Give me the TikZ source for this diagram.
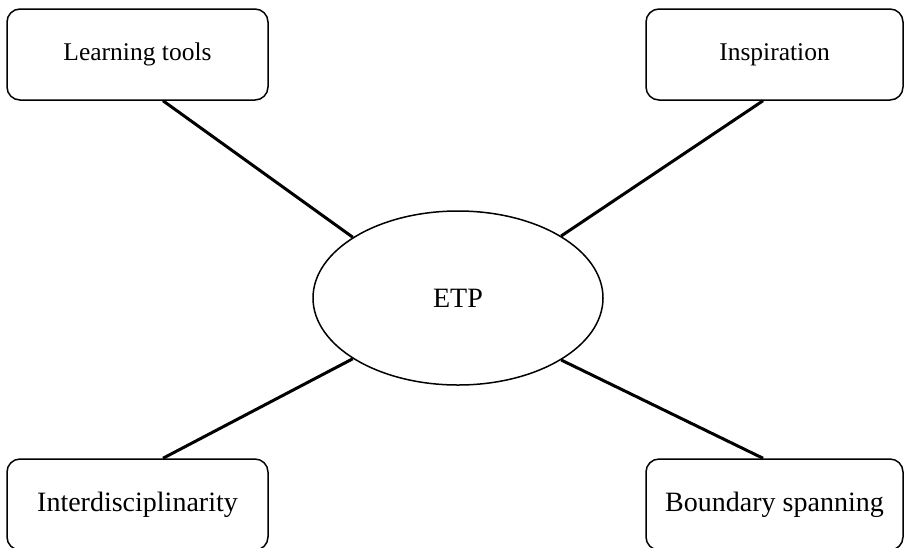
\documentclass[tikz,border=0pt]{standalone}
\usepackage{fontspec}
\setmainfont{Liberation Serif}
\usetikzlibrary{shapes.geometric}
\begin{document}
\begin{tikzpicture}[x=1pt,y=-1pt,
  topbox/.style={draw=black, line width=1.5pt, rounded corners=13pt, fill=white, inner sep=0pt, font=\fontsize{25.5}{30}\selectfont},
  botbox/.style={draw=black, line width=1.5pt, rounded corners=13pt, fill=white, inner sep=0pt, font=\fontsize{28}{33}\selectfont},
  hub/.style={draw=black, line width=1.5pt, ellipse, fill=white, inner sep=0pt, minimum width=290pt, minimum height=174pt, font=\fontsize{28}{33}\selectfont},
  link/.style={line width=3pt, black}]
\path[use as bounding box] (0,0) rectangle (904,547);
\clip (0,0) rectangle (904,547);
\fill[white] (0,0) rectangle (904,547);
\node[hub] (etp) at (458,298) {ETP};
\node[topbox, minimum width=261pt, minimum height=91pt] (lt) at (137.5,54.5) {Learning tools};
\node[topbox, minimum width=257pt, minimum height=91pt] (ins) at (774.5,54.5) {Inspiration};
\node[botbox, minimum width=261pt, minimum height=91pt] (int) at (137.5,504.5) {Interdisciplinarity};
\node[botbox, minimum width=257pt, minimum height=91pt] (bs) at (774.5,504.5) {Boundary spanning};
\draw[link] ([xshift=25.5pt]lt.south) -- (etp.150);
\draw[link] ([xshift=-11.5pt]ins.south) -- (etp.31);
\draw[link] ([xshift=25.5pt]int.north) -- (etp.210);
\draw[link] ([xshift=-11.5pt]bs.north) -- (etp.329);
\end{tikzpicture}
\end{document}
